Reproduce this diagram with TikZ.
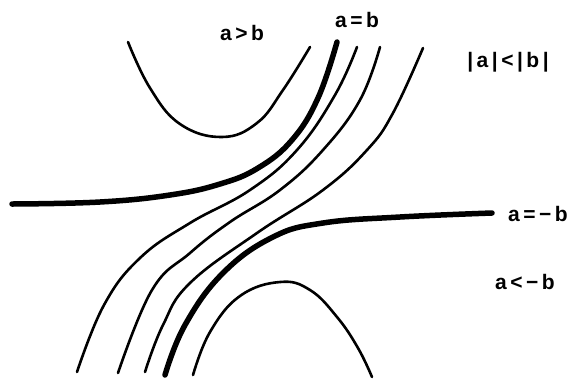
\documentclass[tikz,border=0pt]{standalone}
\usepackage{fontspec}
\setmainfont{Liberation Sans}
\usetikzlibrary{positioning}

\begin{document}
\begin{tikzpicture}[
  x=1pt, y=-1pt,
  thin curve/.style={line width=2.6pt, line cap=round, smooth, tension=0.7},
  thick curve/.style={line width=5.5pt, line cap=round, smooth, tension=0.7},
  lbl/.style={font=\fontsize{21}{24}\selectfont\bfseries, inner sep=0pt},
]

% Frame
\useasboundingbox (0,0) rectangle (569,381);

% =============================================
% Upper and lower parabolas
% =============================================
\draw[thin curve] plot coordinates {(128,42) (150,88) (180,124)
  (222,137) (257,123) (283,90) (310,47)};
\draw[thin curve] plot coordinates {(193,375) (210,332) (240,296)
  (280,282) (310,290) (337,317) (358,348) (372,377)};

% =============================================
% Separatrices a = b and a = -b
% =============================================
\draw[thick curve] plot coordinates {(337,42) (318,98) (292,140) (258,168)
  (220,184) (170,195) (100,202) (12,204)};
\draw[thick curve] plot coordinates {(165,375) (185,325) (223,273)
  (273,237) (323,223) (400,217) (492,213)};

% =============================================
% Curves in between
% =============================================
\draw[thin curve] plot coordinates {(357,47) (335,95) (297,150) (250,190)
  (190,223) (140,258) (104,305) (77,372)};
\draw[thin curve] plot coordinates {(380,47) (360,100) (323,150) (280,190)
  (230,222) (190,253) (152,290) (118,373)};
\draw[thin curve] plot coordinates {(423,48) (393,113) (367,150) (323,190)
  (257,233) (190,283) (163,325) (145,372)};

% =============================================
% Labels
% =============================================
\node[lbl] (gt) at (242,33) {a\,>\,b};
\node[lbl] (eq) at (357,20) {a\,=\,b};
\node[lbl] (abs) at (508,62) {|\,a\,|\,<\,|\,b\,|};
\node[lbl, anchor=west] (eqneg) at (508,214) {a\,=\,−\,b};
\node[lbl] (lt) at (525,282) {a\,<\,−\,b};

\end{tikzpicture}
\end{document}
